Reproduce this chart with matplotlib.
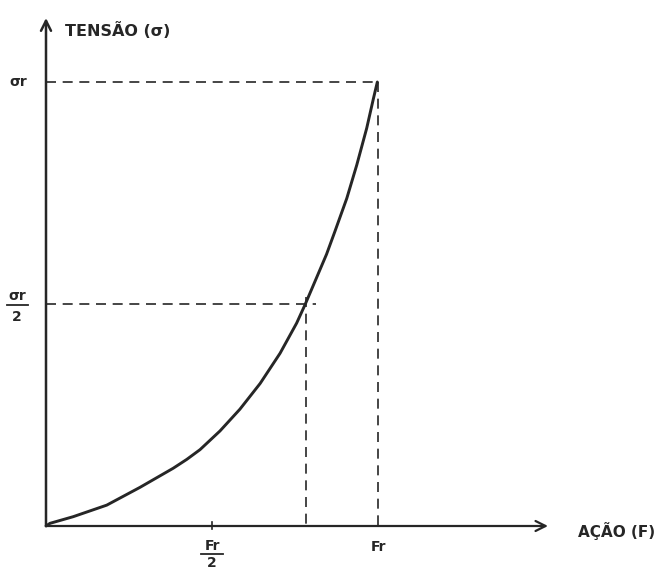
import matplotlib
matplotlib.use("Agg")
import matplotlib.pyplot as plt
import numpy as np

# Curve (F / Fr, sigma / sigma_r)
force = [0.0, 0.012, 0.082, 0.183, 0.283, 0.383, 0.424, 0.464, 0.524, 0.584, 0.645,
         0.705, 0.755, 0.780, 0.800, 0.845, 0.870, 0.906, 0.936, 0.966, 0.986, 0.998]
stress = [0.0, 0.006, 0.021, 0.047, 0.087, 0.130, 0.150, 0.172, 0.214, 0.263, 0.321,
          0.389, 0.457, 0.498, 0.533, 0.612, 0.663, 0.738, 0.813, 0.896, 0.962, 1.0]

x_ticks = [0.5, 1.0]
x_tick_labels = [("Fr", "2"), "Fr"]
y_ticks = [0.5, 1.0]
y_tick_labels = [("σr", "2"), "σr"]
half_force = 0.783   # force at half stress
x_label = "AÇÃO (F)"
y_label = "TENSÃO (σ)"

ink = "#262626"

fig = plt.figure(figsize=(6.65, 5.7), dpi=100)
ax = fig.add_axes([0, 0, 1, 1])
# pixel mapping: origin at (46,526), Fr at 378 px, sigma_r at 82 px
ox, oy = 46.0, 526.0
sx, sy = 332.0, 444.0
ax.set_xlim(-ox / sx, (665 - ox) / sx)
ax.set_ylim(-(570 - oy) / sy, oy / sy)
ax.axis("off")

def px(x):
    return (x - ox) / sx

def py(y):
    return (oy - y) / sy

# axes with arrows
ax.annotate("", xy=(px(548), 0), xytext=(0, 0),
            arrowprops=dict(arrowstyle="->", color=ink, lw=1.6, mutation_scale=18,
                            shrinkA=0, shrinkB=0))
ax.annotate("", xy=(0, py(18)), xytext=(0, 0),
            arrowprops=dict(arrowstyle="->", color=ink, lw=1.8, mutation_scale=18,
                            shrinkA=0, shrinkB=0))

# curve
ax.plot(force, stress, color=ink, lw=2.1, solid_capstyle="round", solid_joinstyle="round")

# dashed guides
dash = dict(color=ink, lw=1.2, dashes=(6, 4))
ax.plot([0, x_ticks[1]], [y_ticks[1], y_ticks[1]], **dash)
ax.plot([x_ticks[1], x_ticks[1]], [y_ticks[1], 0], **dash)
ax.plot([0, half_force + 0.03], [y_ticks[0], y_ticks[0]], **dash)
ax.plot([half_force, half_force], [y_ticks[0] + 0.015, 0], **dash)

# small tick at Fr/2
ax.plot([x_ticks[0], x_ticks[0]], [-0.006, 0.008], color=ink, lw=1.2)

tk = dict(color=ink, fontsize=10, fontweight="bold", ha="center")

# x tick labels
num, den = x_tick_labels[0]
ax.text(x_ticks[0], py(539), num, va="top", **tk)
ax.plot([x_ticks[0] - 11 / sx, x_ticks[0] + 11 / sx], [py(554), py(554)], color=ink, lw=1.3)
ax.text(x_ticks[0], py(556), den, va="top", **tk)
ax.text(x_ticks[1], py(540), x_tick_labels[1], va="top", **tk)

# y tick labels
num, den = y_tick_labels[0]
ax.text(px(17), py(296), num, va="center", **tk)
ax.plot([px(7), px(28)], [py(305), py(305)], color=ink, lw=1.3)
ax.text(px(17), py(317), den, va="center", **tk)
ax.text(px(18), y_ticks[1], y_tick_labels[1], va="center", **tk)

# axis labels
ax.text(px(65), py(30), y_label, ha="left", va="center",
        fontsize=11.5, color=ink, fontweight="bold")
ax.text(px(578), py(531), x_label, ha="left", va="center",
        fontsize=11, color=ink, fontweight="bold")

fig.savefig("out.png", dpi=100, facecolor="white")
